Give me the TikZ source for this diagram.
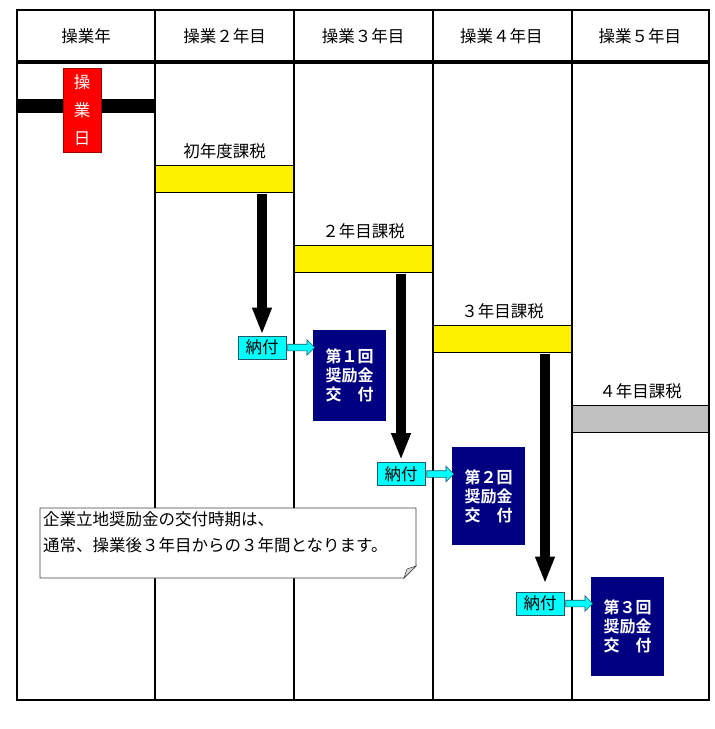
\documentclass[tikz,border=0pt]{standalone}
\usepackage{fontspec}
\setmainfont{Noto Sans CJK JP}[BoldFont={Noto Sans CJK JP Bold}]
\usetikzlibrary{positioning, arrows.meta, shapes.arrows}
\definecolor{grantblue}{RGB}{0,0,128}
\definecolor{taxgray}{RGB}{192,192,192}
\definecolor{paycyan}{RGB}{0,255,255}
\definecolor{payedge}{RGB}{30,90,100}
\tikzset{Grid/.style={%
    line width=2.2pt,%
}}
\tikzset{Header/.style={%
    font=\fontsize{16.5}{18}\selectfont,%
    inner sep=0pt,%
}}
\tikzset{OpDay/.style={%
    draw=red!60!black,%
    fill=red,%
    text=white,%
    line width=0.6pt,%
    minimum width=38pt,%
    minimum height=84pt,%
    inner sep=0pt,%
    align=center,%
    font=\fontsize{16.5}{28}\selectfont,%
}}
\tikzset{TaxBar/.style={%
    draw=black,%
    fill=yellow,%
    line width=0.8pt,%
    minimum width=139pt,%
    minimum height=27pt,%
    inner sep=0pt,%
    outer sep=0pt,%
}}
\tikzset{TaxLabel/.style={%
    font=\fontsize{16.5}{18}\selectfont,%
    inner sep=0pt,%
}}
\tikzset{Payment/.style={%
    draw=payedge,%
    fill=paycyan,%
    line width=0.8pt,%
    minimum width=48pt,%
    minimum height=23pt,%
    inner sep=0pt,%
    font=\fontsize{16.5}{18}\selectfont,%
}}
\tikzset{Grant/.style={%
    fill=grantblue,%
    text=white,%
    minimum width=73pt,%
    inner sep=0pt,%
    align=center,%
    font=\bfseries\fontsize{16}{19}\selectfont,%
}}
\tikzset{PayArrow/.style={%
    -{Triangle[width=18pt,length=27pt]},%
    line width=10pt,%
}}
\tikzset{HandArrow/.style={%
    single arrow,%
    draw=payedge,%
    fill=paycyan,%
    line width=0.6pt,%
    minimum height=27pt,%
    inner sep=3pt,%
    single arrow head extend=4.5pt,%
}}
\tikzset{NoteText/.style={%
    align=left,%
    inner sep=0pt,%
    font=\fontsize{16.5}{26}\selectfont,%
}}

\begin{document}
\begin{tikzpicture}[x=1pt, y=-1pt]
    \useasboundingbox (0,0) rectangle (715,729);

    % operating day bar (under the grid)
    \fill (17,99) rectangle (155,113);

    % tax bars
    \node[TaxBar] (tax1) at (224.5,178.5) {};
    \node[TaxBar] (tax2) at (363.5,258.5) {};
    \node[TaxBar] (tax3) at (502.5,338.5) {};
    \node[TaxBar, fill=taxgray, minimum width=137pt] (tax4) at (640.5,418.5) {};
    \node[TaxLabel, above=6pt of tax1] (lab1) {初年度課税};
    \node[TaxLabel, above=6pt of tax2] (lab2) {２年目課税};
    \node[TaxLabel, above=6pt of tax3] (lab3) {３年目課税};
    \node[TaxLabel, above=6pt of tax4] (lab4) {４年目課税};

    % grid
    \draw[Grid] (17,10) rectangle (709,700);
    \foreach \x in {155,294,433,572}
        \draw[Grid] (\x,10) -- (\x,700);
    \draw[line width=3.5pt] (17,62) -- (709,62);
    \foreach \t [count=\i] in {操業年,操業２年目,操業３年目,操業４年目,操業５年目}
        \node[Header] (head\i) at ({17+(\i-0.5)*138.4},36) {\t};

    \node[OpDay] (opday) at (82,110) {操\\業\\日};

    % payments
    \node[Payment] (pay1) at (262,347.5) {納付};
    \node[Payment] (pay2) at (401,474) {納付};
    \node[Payment] (pay3) at (540,603.5) {納付};

    % grants
    \node[Grant, minimum height=91pt] (grant1) at (349.5,375.5) {第１回\\奨励金\\交　付};
    \node[Grant, minimum height=98pt] (grant2) at (488.5,496) {第２回\\奨励金\\交　付};
    \node[Grant, minimum height=99pt] (grant3) at (627.5,626.5) {第３回\\奨励金\\交　付};

    \draw[PayArrow] ([yshift=-2pt]tax1.south -| pay1.north) -- ([yshift=1pt]pay1.north);
    \draw[PayArrow] ([yshift=-2pt]tax2.south -| pay2.north) -- ([yshift=2pt]pay2.north);
    \draw[PayArrow] ([xshift=5pt,yshift=-2pt]tax3.south -| pay3.north) -- ([xshift=5pt,yshift=8pt]pay3.north);

    \path (pay1.east) -- (pay1.east -| grant1.west) node[midway, HandArrow] (hand1) {};
    \path (pay2.east) -- (pay2.east -| grant2.west) node[midway, HandArrow] (hand2) {};
    \path (pay3.east) -- (pay3.east -| grant3.west) node[midway, HandArrow] (hand3) {};

    % note
    \coordinate (nw) at (40,508);
    \coordinate (se) at (416,578);
    \filldraw[fill=white, draw=black!75, line width=0.8pt]
        (nw) -- (nw -| se) -- ([yshift=12pt]se) -- ([xshift=-12pt]se) -- (nw |- se) -- cycle;
    \filldraw[fill=black!15, draw=black!75, line width=0.6pt]
        ([xshift=-12pt]se) -- ([xshift=-9pt,yshift=9pt]se) -- ([yshift=12pt]se) -- cycle;
    \node[NoteText, anchor=north west] (note) at (43,511)
        {企業立地奨励金の交付時期は、\\通常、操業後３年目からの３年間となります。};
\end{tikzpicture}
\end{document}
